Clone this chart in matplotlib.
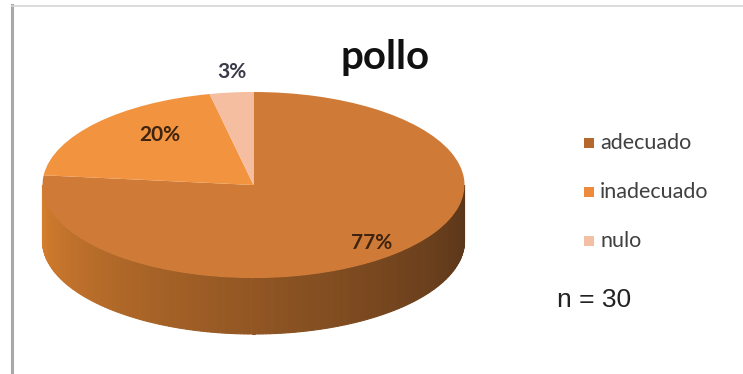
import numpy as np
import matplotlib.pyplot as plt
from matplotlib.patches import Wedge, Polygon, Rectangle
from matplotlib.transforms import Affine2D
from matplotlib.colors import to_rgb

# data
categories = ["adecuado", "inadecuado", "nulo"]
counts = [23, 6, 1]
n_total = 30
title = "pollo"

top_colors = ["#CF7B37", "#F2933F", "#F6BEA0"]
legend_colors = ["#B5682C", "#EC8B3E", "#F3C0A6"]

W, H = 743, 374
fig = plt.figure(figsize=(W / 100, H / 100), dpi=100)
ax = fig.add_axes([0, 0, 1, 1])
ax.set_xlim(0, W)
ax.set_ylim(H, 0)
ax.axis("off")

# frame lines
ax.plot([12, 12], [5, H], color="#A8A8A8", lw=2.2)
ax.plot([12, W], [5.5, 5.5], color="#D6D6D6", lw=1.2)

# pie geometry (pixel space)
cx, cy = 253.5, 185
rx, ry = 211, 93
depth = 56

fracs = np.array(counts) / n_total
starts = 90 - 360 * np.concatenate([[0], np.cumsum(fracs)[:-1]])  # clockwise from top

# side of the pie (front half), shaded left->right
theta = np.linspace(np.pi, 2 * np.pi, 180)
light = np.array(to_rgb("#D9802F"))
dark = np.array(to_rgb("#5A361A"))
for i in range(len(theta) - 1):
    t0, t1 = theta[i], theta[i + 1]
    x0, x1 = cx + rx * np.cos(t0), cx + rx * np.cos(t1)
    y0, y1 = cy - ry * np.sin(t0), cy - ry * np.sin(t1)
    u = i / (len(theta) - 2)
    col = light * (1 - u) ** 1.2 + dark * (1 - (1 - u) ** 1.2)
    ax.add_patch(Polygon([[x0, y0], [x1, y1], [x1, y1 + depth], [x0, y0 + depth]],
                         closed=True, facecolor=col, edgecolor=col, lw=0.8))

# top surface: unit-circle wedges mapped onto the ellipse
tr = Affine2D().scale(rx, -ry).translate(cx, cy) + ax.transData
for f, s, c in zip(fracs, starts, top_colors):
    ax.add_patch(Wedge((0, 0), 1, s - 360 * f, s, facecolor=c, edgecolor="none",
                       transform=tr))

# percentage labels
pct = [f"{round(100 * f)}%" for f in fracs]
lab_pos = [(372, 243), (160, 135), (232, 72)]
lab_col = ["#3E2410", "#3E2410", "#3A3A48"]
for t, (x, y), c in zip(pct, lab_pos, lab_col):
    ax.text(x, y, t, ha="center", va="center", fontsize=15, fontweight="bold",
            family="Lato", color=c)

ax.text(385, 57, title, ha="center", va="center", fontsize=29, fontweight="bold",
        family="Lato", color="#111111")

# legend
leg_y = [143, 192, 241]
for lab, c, y in zip(categories, legend_colors, leg_y):
    ax.add_patch(Rectangle((584, y - 5), 10, 10, facecolor=c, edgecolor="none"))
    ax.text(600, y, lab, ha="left", va="center", fontsize=15.5, family="Lato",
            color="#404040")

ax.text(557, 300, f"n = {n_total}", ha="left", va="center", fontsize=19,
        family="Liberation Sans", color="#222222")

fig.savefig("out.png", dpi=100)
